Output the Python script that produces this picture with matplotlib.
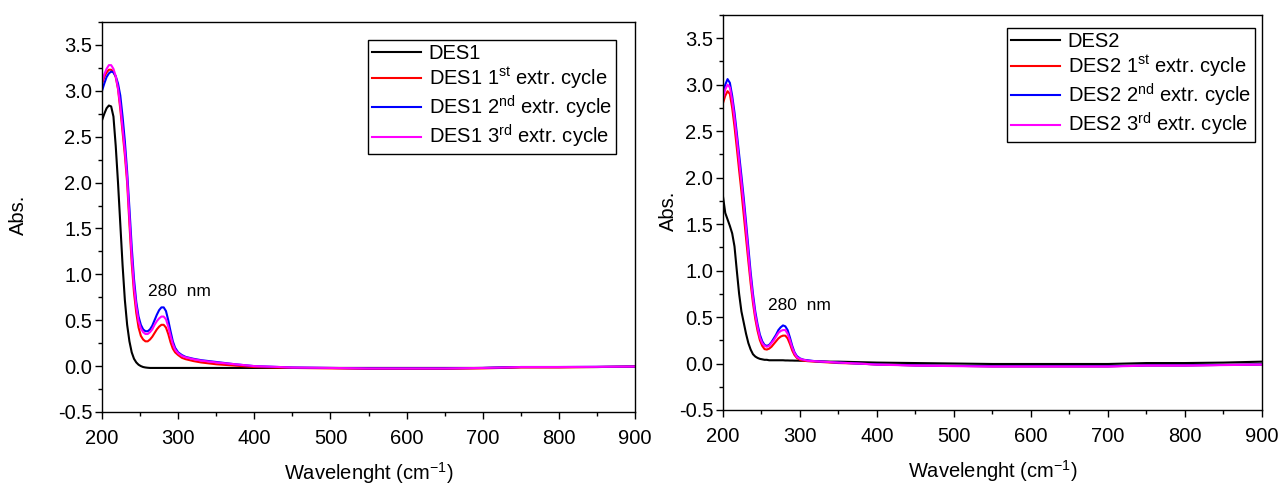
import matplotlib
matplotlib.use("Agg")
import matplotlib.pyplot as plt
from matplotlib.ticker import MultipleLocator, FormatStrFormatter

plt.rcParams['font.family'] = ['Liberation Sans', 'DejaVu Sans']
plt.rcParams['mathtext.fontset'] = 'custom'
plt.rcParams['mathtext.rm'] = 'Liberation Sans'
plt.rcParams['mathtext.default'] = 'regular'

# wavelength grid (nm) shared by all spectra
wl = [200, 203, 206, 209, 212, 215, 218, 221, 224, 227, 230, 233, 236, 239, 242,
      245, 248, 251, 254, 257, 260, 263, 266, 269, 272, 275, 278, 281, 284, 287,
      290, 293, 296, 300, 305, 310, 320, 330, 340, 350, 375, 400, 450, 500, 550,
      600, 650, 700, 725, 750, 800, 850, 900]

# --- DES1 panel ---
des1 = [2.68, 2.75, 2.81, 2.84, 2.83, 2.72, 2.40, 2.00, 1.55, 1.10, 0.72, 0.45, 0.27, 0.15, 0.08,
        0.04, 0.015, 0.0, -0.01, -0.015, -0.018, -0.02, -0.02, -0.02, -0.02, -0.02, -0.02, -0.02, -0.02, -0.02,
        -0.02, -0.02, -0.02, -0.02, -0.02, -0.02, -0.02, -0.02, -0.02, -0.02, -0.02, -0.02, -0.02, -0.02, -0.02,
        -0.02, -0.02, -0.02, -0.015, -0.01, -0.01, -0.01, -0.005]
des1_c1 = [3.08, 3.15, 3.20, 3.23, 3.23, 3.21, 3.15, 3.02, 2.80, 2.55, 2.30, 2.00, 1.55, 1.12, 0.80,
           0.58, 0.42, 0.33, 0.29, 0.27, 0.27, 0.29, 0.32, 0.36, 0.40, 0.43, 0.45, 0.45, 0.42, 0.35,
           0.26, 0.19, 0.15, 0.12, 0.09, 0.075, 0.055, 0.04, 0.03, 0.02, 0.005, -0.01, -0.02, -0.025, -0.03,
           -0.03, -0.03, -0.025, -0.02, -0.015, -0.015, -0.01, -0.005]
des1_c2 = [3.00, 3.08, 3.15, 3.19, 3.21, 3.20, 3.16, 3.08, 2.95, 2.72, 2.45, 2.12, 1.72, 1.30, 0.95,
           0.70, 0.54, 0.45, 0.40, 0.38, 0.38, 0.40, 0.44, 0.50, 0.56, 0.61, 0.64, 0.64, 0.60, 0.50,
           0.38, 0.27, 0.20, 0.15, 0.12, 0.10, 0.08, 0.065, 0.055, 0.045, 0.02, 0.0, -0.015, -0.02, -0.025,
           -0.025, -0.025, -0.02, -0.015, -0.01, -0.01, -0.008, -0.005]
des1_c3 = [3.10, 3.18, 3.24, 3.28, 3.28, 3.24, 3.16, 3.03, 2.84, 2.60, 2.35, 2.05, 1.62, 1.20, 0.87,
           0.65, 0.49, 0.41, 0.37, 0.35, 0.35, 0.37, 0.40, 0.45, 0.49, 0.52, 0.54, 0.54, 0.51, 0.43,
           0.33, 0.24, 0.18, 0.14, 0.11, 0.095, 0.075, 0.06, 0.05, 0.04, 0.02, 0.0, -0.015, -0.02, -0.025,
           -0.025, -0.025, -0.02, -0.015, -0.01, -0.01, -0.008, -0.005]

# --- DES2 panel ---
des2 = [1.80, 1.62, 1.55, 1.48, 1.40, 1.26, 1.00, 0.75, 0.56, 0.44, 0.32, 0.22, 0.15, 0.10, 0.075,
        0.06, 0.05, 0.045, 0.04, 0.04, 0.035, 0.035, 0.035, 0.035, 0.035, 0.035, 0.035, 0.033, 0.033, 0.032,
        0.032, 0.031, 0.031, 0.03, 0.03, 0.028, 0.025, 0.022, 0.02, 0.02, 0.015, 0.01, 0.005, 0.0, -0.005,
        -0.005, -0.005, -0.005, 0.0, 0.005, 0.005, 0.01, 0.02]
des2_c1 = [2.80, 2.88, 2.93, 2.90, 2.75, 2.55, 2.32, 2.08, 1.85, 1.60, 1.35, 1.10, 0.86, 0.65, 0.48,
           0.35, 0.25, 0.19, 0.155, 0.15, 0.16, 0.18, 0.21, 0.24, 0.27, 0.29, 0.30, 0.30, 0.27, 0.21,
           0.14, 0.09, 0.06, 0.04, 0.03, 0.025, 0.02, 0.015, 0.01, 0.005, 0.0, -0.01, -0.02, -0.025, -0.03,
           -0.03, -0.03, -0.03, -0.025, -0.02, -0.02, -0.015, -0.01]
des2_c2 = [2.90, 3.00, 3.06, 3.02, 2.88, 2.70, 2.48, 2.25, 2.02, 1.78, 1.52, 1.25, 0.98, 0.75, 0.56,
           0.42, 0.31, 0.24, 0.20, 0.19, 0.20, 0.23, 0.27, 0.31, 0.36, 0.39, 0.41, 0.40, 0.36, 0.28,
           0.19, 0.12, 0.08, 0.055, 0.04, 0.035, 0.025, 0.02, 0.015, 0.01, 0.0, -0.01, -0.02, -0.025, -0.03,
           -0.03, -0.03, -0.03, -0.025, -0.02, -0.02, -0.015, -0.01]
des2_c3 = [2.85, 2.95, 3.00, 2.97, 2.83, 2.64, 2.42, 2.18, 1.95, 1.71, 1.45, 1.18, 0.92, 0.70, 0.52,
           0.39, 0.28, 0.22, 0.19, 0.18, 0.19, 0.22, 0.25, 0.29, 0.33, 0.35, 0.36, 0.36, 0.32, 0.25,
           0.17, 0.11, 0.07, 0.05, 0.04, 0.03, 0.025, 0.02, 0.015, 0.01, 0.0, -0.012, -0.022, -0.028, -0.032,
           -0.032, -0.032, -0.032, -0.028, -0.022, -0.022, -0.017, -0.012]

colors = ['black', 'red', 'blue', 'magenta']
suffix = ['', ' 1$^{st}$ extr. cycle', ' 2$^{nd}$ extr. cycle', ' 3$^{rd}$ extr. cycle']

fig = plt.figure(figsize=(12.8, 4.86), dpi=100)
ax1 = fig.add_axes([0.0797, 0.1523, 0.4164, 0.8024])
ax2 = fig.add_axes([0.5648, 0.1564, 0.4211, 0.8128])

panels = [
    (ax1, 'DES1', [des1, des1_c1, des1_c2, des1_c3], (0.964, 0.954), -0.139, (302, 0.81)),
    (ax2, 'DES2', [des2, des2_c1, des2_c2, des2_c3], (0.987, 0.967), -0.083, (299, 0.62)),
]

fs = 14.5
for ax, name, series, leg_pos, ylab_x, txt in panels:
    for s, c, suf in zip(series, colors, suffix):
        ax.plot(wl, s, color=c, lw=1.5, label=name + suf)
    ax.set_xlim(200, 900)
    ax.set_ylim(-0.5, 3.75)
    ax.xaxis.set_major_locator(MultipleLocator(100))
    ax.xaxis.set_minor_locator(MultipleLocator(50))
    ax.yaxis.set_major_locator(MultipleLocator(0.5))
    ax.yaxis.set_minor_locator(MultipleLocator(0.25))
    ax.yaxis.set_major_formatter(FormatStrFormatter('%.1f'))
    ax.tick_params(which='major', direction='out', length=5, width=1, labelsize=fs, pad=2)
    ax.tick_params(axis='x', which='major', pad=7)
    ax.tick_params(which='minor', direction='out', length=3, width=1)
    for sp in ax.spines.values():
        sp.set_linewidth(1)
    ax.set_xlabel('Wavelenght (cm$^{-1}$)', fontsize=fs, labelpad=9)
    ax.set_ylabel('Abs.', fontsize=fs)
    ax.yaxis.set_label_coords(ylab_x, 0.505)
    ax.text(txt[0], txt[1], '280  nm', fontsize=12.5, ha='center', va='center')
    leg = ax.legend(loc='upper right', bbox_to_anchor=leg_pos, fontsize=fs,
                    frameon=True, fancybox=False, framealpha=1, edgecolor='black',
                    handlelength=2.4, borderpad=0.2, labelspacing=0.12,
                    handletextpad=0.4, borderaxespad=0)
    leg.get_frame().set_linewidth(1)

fig.savefig('out.png', dpi=100)
